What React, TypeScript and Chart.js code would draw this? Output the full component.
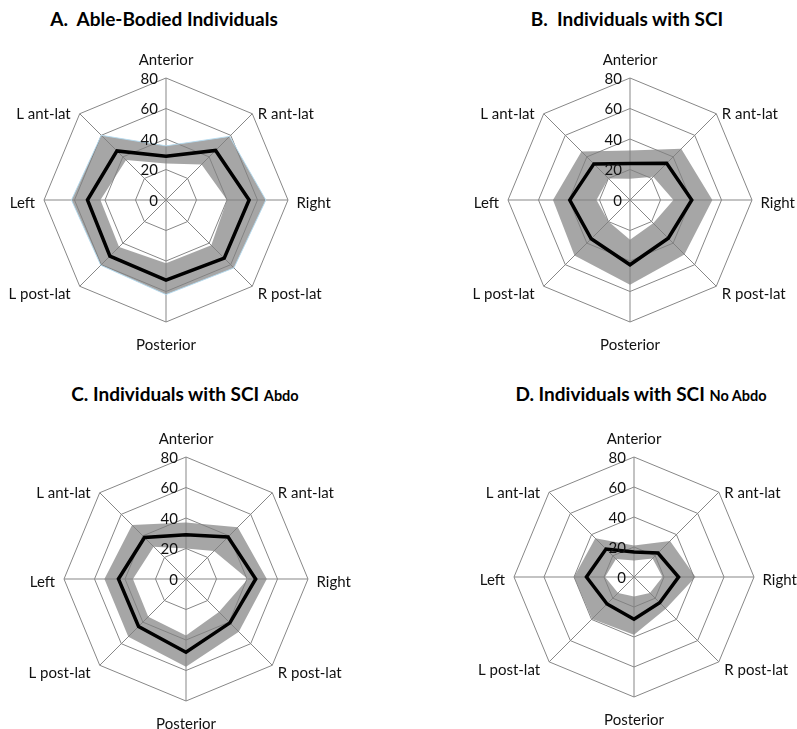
import React, { useEffect, useRef } from "react";
import { Chart, registerables } from "chart.js";

Chart.register(...registerables);

// ---------- data ----------
const categories = ["Anterior", "R ant-lat", "Right", "R post-lat", "Posterior", "L post-lat", "Left", "L ant-lat"];
const tickValues = [0, 20, 40, 60, 80];

const ableMean = [28.7, 46, 54.5, 54, 52.5, 52, 51.5, 45.5];
const ableUpper = [35.5, 59, 65.5, 63, 62, 60.5, 62, 60];
const ableLower = [24, 33, 40, 42, 41.5, 43.5, 43, 37];

const sciMean = [24, 34, 40.5, 35.5, 42.5, 36, 39.5, 33.5];
const sciUpper = [32.5, 47.5, 54, 50.5, 55.5, 51.5, 50.5, 45];
const sciLower = [14, 21.5, 28.5, 21.5, 26, 20, 22, 20];

const abdoMean = [29, 39, 45.7, 40.7, 48, 44, 44.3, 38.5];
const abdoUpper = [37, 48, 53, 49, 57.5, 53.5, 53.5, 50];
const abdoLower = [20, 26, 40.5, 30.5, 37, 35, 34.8, 30];

const noAbdoMean = [16.7, 22.6, 29.7, 24.2, 28.2, 25.4, 31.7, 26.4];
const noAbdoUpper = [21, 34, 41, 30, 38.5, 39.5, 40, 36.5];
const noAbdoLower = [11, 17.5, 19, 15, 13, 15, 19.3, 17];

// ---------- styles / layout ----------
const FONT = "Lato, 'Open Sans', 'DejaVu Sans', sans-serif";
const TEXT = "#111111";
const GRID = "#878787";
const BAND = "rgba(128,128,128,0.7)";
const CANVAS_W = 399;
const CANVAS_H = 365;

// label offsets relative to outer vertex (dx, baseline dy)
const labelPlacement: { align: CanvasTextAlign; dx: number; dy: number }[] = [
  { align: "center", dx: 0, dy: -13 },
  { align: "left", dx: 5.5, dy: 5.5 },
  { align: "left", dx: 8.5, dy: 8 },
  { align: "left", dx: 5.5, dy: 13 },
  { align: "center", dx: 0, dy: 28 },
  { align: "right", dx: -9, dy: 13 },
  { align: "right", dx: -9, dy: 8 },
  { align: "right", dx: -9, dy: 5.5 },
];

const radarTextPlugin = {
  id: "radarText",
  afterDatasetsDraw(chart: any) {
    const s = chart.scales.r;
    const ctx = chart.ctx as CanvasRenderingContext2D;
    ctx.save();
    ctx.font = `15px ${FONT}`;
    ctx.fillStyle = TEXT;
    ctx.textAlign = "right";
    ctx.textBaseline = "middle";
    tickValues.forEach((v) => {
      const d = s.getDistanceFromCenterForValue(v);
      ctx.fillText(String(v), s.xCenter - 8, s.yCenter - d + 1);
    });
    ctx.textBaseline = "alphabetic";
    (chart.data.labels as string[]).forEach((lab, i) => {
      const p = s.getPointPosition(i, s.drawingArea);
      const pl = labelPlacement[i];
      ctx.textAlign = pl.align;
      ctx.fillText(lab, p.x + pl.dx, p.y + pl.dy);
    });
    ctx.restore();
  },
};

type PanelProps = {
  left: number;
  top: number;
  cx: number;
  cy: number;
  radius: number;
  mean: number[];
  upper: number[];
  lower: number[];
  outline?: string;
};

function RadarPanel({ left, top, cx, cy, radius, mean, upper, lower, outline }: PanelProps) {
  const ref = useRef<HTMLCanvasElement | null>(null);
  useEffect(() => {
    if (!ref.current) return;
    const padL = cx - radius;
    const padT = cy - radius;
    const padR = CANVAS_W - padL - 2 * radius;
    const padB = CANVAS_H - padT - 2 * radius;
    const chart = new Chart(ref.current, {
      type: "radar",
      data: {
        labels: categories,
        datasets: [
          {
            data: mean,
            borderColor: "#000000",
            borderWidth: 3.5,
            pointRadius: 0,
            fill: false,
          },
          {
            data: upper,
            borderColor: outline || "rgba(0,0,0,0)",
            borderWidth: 1,
            pointRadius: 0,
            backgroundColor: BAND,
            fill: "+1",
          },
          {
            data: lower,
            borderColor: "rgba(0,0,0,0)",
            borderWidth: 1,
            pointRadius: 0,
            fill: false,
          },
        ],
      },
      options: {
        animation: false,
        responsive: false,
        layout: { padding: { left: padL, right: padR, top: padT, bottom: padB } },
        elements: { line: { tension: 0, borderJoinStyle: "miter" } },
        plugins: {
          legend: { display: false },
          tooltip: { enabled: false },
          title: { display: false },
        },
        scales: {
          r: {
            min: 0,
            max: 80,
            ticks: { display: false, stepSize: 20 },
            pointLabels: { display: false },
            grid: { color: GRID, lineWidth: 1 },
            angleLines: { color: GRID, lineWidth: 1 },
          },
        },
      } as any,
      plugins: [radarTextPlugin],
    });
    return () => chart.destroy();
  }, []);
  return (
    <canvas
      ref={ref}
      width={CANVAS_W}
      height={CANVAS_H}
      style={{ position: "absolute", left, top, width: CANVAS_W, height: CANVAS_H }}
    />
  );
}

const titleBase: React.CSSProperties = {
  position: "absolute",
  width: 400,
  textAlign: "center",
  fontFamily: FONT,
  fontWeight: 700,
  fontSize: 19,
  lineHeight: "22.8px",
  whiteSpace: "pre",
  color: "#000",
};
const smallPart: React.CSSProperties = { fontSize: 14.5 };

export default function App() {
  return (
    <div style={{ position: "absolute", left: 0, top: 0, width: 797, height: 729, background: "#fff", overflow: "hidden" }}>
      <div style={{ ...titleBase, left: 164 - 200, top: 8.2 }}>A.  Able-Bodied Individuals</div>
      <div style={{ ...titleBase, left: 627 - 200, top: 8.2 }}>B.  Individuals with SCI</div>
      <div style={{ ...titleBase, left: 185 - 200, top: 383.2 }}>
        C. Individuals with SCI <span style={smallPart}>Abdo</span>
      </div>
      <div style={{ ...titleBase, left: 641 - 200, top: 383.2 }}>
        D. Individuals with SCI <span style={smallPart}>No Abdo</span>
      </div>
      <RadarPanel left={0} top={0} cx={166} cy={200} radius={122} mean={ableMean} upper={ableUpper} lower={ableLower} outline="rgba(180,218,240,0.9)" />
      <RadarPanel left={398} top={0} cx={232} cy={200} radius={122} mean={sciMean} upper={sciUpper} lower={sciLower} />
      <RadarPanel left={0} top={364} cx={186} cy={215} radius={122} mean={abdoMean} upper={abdoUpper} lower={abdoLower} />
      <RadarPanel left={398} top={364} cx={236} cy={213} radius={120} mean={noAbdoMean} upper={noAbdoUpper} lower={noAbdoLower} />
    </div>
  );
}
